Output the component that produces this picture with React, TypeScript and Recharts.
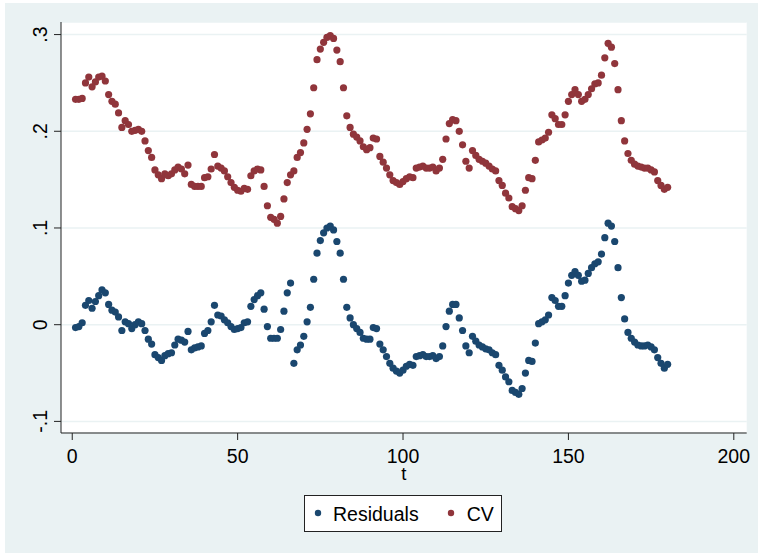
import { ScatterChart, Scatter, XAxis, YAxis, CartesianGrid, Label } from 'recharts'

const FONT = "'Liberation Sans', Arial, Helvetica, sans-serif"
const BLUE = '#1a476f'
const RED = '#90353b'
const BG = '#eaf2f3'

// time index t = 1..180
const T = Array.from({ length: 180 }, (_, i) => i + 1)

const RESIDUALS = [
  -0.003, -0.002, 0.002, 0.020, 0.025, 0.017, 0.024, 0.030, 0.036, 0.033,
  0.021, 0.015, 0.013, 0.008, -0.006, 0.003, 0.001, -0.004, 0.000, 0.003,
  0.001, -0.006, -0.015, -0.020, -0.031, -0.034, -0.037, -0.032, -0.030, -0.029,
  -0.021, -0.015, -0.016, -0.018, -0.007, -0.026, -0.024, -0.023, -0.022, -0.009,
  -0.006, 0.003, 0.020, 0.010, 0.009, 0.005, 0.002, -0.002, -0.005, -0.004,
  -0.003, 0.002, 0.003, 0.019, 0.026, 0.030, 0.033, 0.016, -0.002, -0.014,
  -0.014, -0.014, -0.005, 0.014, 0.033, 0.043, -0.040, -0.026, -0.021, -0.012,
  0.003, 0.018, 0.047, 0.074, 0.087, 0.095, 0.100, 0.102, 0.098, 0.086,
  0.074, 0.047, 0.018, 0.007, 0.000, -0.004, -0.008, -0.014, -0.015, -0.015,
  -0.003, -0.004, -0.020, -0.026, -0.033, -0.040, -0.045, -0.048, -0.050, -0.047,
  -0.043, -0.041, -0.042, -0.033, -0.032, -0.031, -0.033, -0.033, -0.032, -0.035,
  -0.033, -0.022, -0.002, 0.014, 0.021, 0.021, 0.007, -0.006, -0.022, -0.029,
  -0.012, -0.017, -0.021, -0.023, -0.025, -0.026, -0.029, -0.031, -0.042, -0.047,
  -0.054, -0.059, -0.068, -0.070, -0.072, -0.066, -0.050, -0.037, -0.038, -0.019,
  0.001, 0.003, 0.005, 0.010, 0.028, 0.025, 0.019, 0.019, 0.030, 0.043,
  0.051, 0.055, 0.051, 0.045, 0.046, 0.053, 0.059, 0.063, 0.065, 0.073,
  0.090, 0.105, 0.102, 0.086, 0.059, 0.028, 0.006, -0.008, -0.014, -0.018,
  -0.021, -0.022, -0.022, -0.021, -0.023, -0.026, -0.034, -0.040, -0.045, -0.041,
]

const CV = [
  0.233, 0.233, 0.234, 0.250, 0.256, 0.246, 0.251, 0.256, 0.257, 0.252,
  0.238, 0.231, 0.228, 0.219, 0.204, 0.211, 0.207, 0.200, 0.201, 0.202,
  0.200, 0.190, 0.180, 0.173, 0.160, 0.155, 0.151, 0.156, 0.154, 0.156,
  0.160, 0.163, 0.161, 0.156, 0.165, 0.145, 0.143, 0.143, 0.143, 0.152,
  0.153, 0.161, 0.176, 0.164, 0.162, 0.159, 0.153, 0.147, 0.142, 0.139,
  0.138, 0.141, 0.140, 0.154, 0.159, 0.161, 0.160, 0.143, 0.123, 0.111,
  0.109, 0.105, 0.112, 0.130, 0.147, 0.155, 0.159, 0.173, 0.178, 0.188,
  0.202, 0.218, 0.245, 0.274, 0.285, 0.292, 0.297, 0.299, 0.296, 0.284,
  0.272, 0.245, 0.216, 0.204, 0.197, 0.194, 0.190, 0.184, 0.181, 0.183,
  0.193, 0.192, 0.174, 0.168, 0.162, 0.155, 0.149, 0.147, 0.145, 0.148,
  0.151, 0.153, 0.152, 0.162, 0.163, 0.164, 0.162, 0.162, 0.163, 0.159,
  0.162, 0.171, 0.192, 0.208, 0.212, 0.211, 0.200, 0.186, 0.169, 0.162,
  0.180, 0.175, 0.171, 0.169, 0.167, 0.164, 0.161, 0.159, 0.149, 0.144,
  0.136, 0.131, 0.122, 0.120, 0.118, 0.123, 0.139, 0.152, 0.151, 0.170,
  0.189, 0.191, 0.193, 0.199, 0.217, 0.213, 0.207, 0.207, 0.217, 0.231,
  0.238, 0.243, 0.238, 0.231, 0.233, 0.238, 0.244, 0.249, 0.250, 0.258,
  0.276, 0.291, 0.287, 0.270, 0.243, 0.211, 0.190, 0.177, 0.170, 0.166,
  0.164, 0.163, 0.162, 0.162, 0.160, 0.158, 0.149, 0.144, 0.140, 0.142,
]

const X_TICKS = [0, 50, 100, 150, 200]
const Y_TICKS = [-0.1, 0, 0.1, 0.2, 0.3]

const SERIES = [
  { name: 'Residuals', values: RESIDUALS, color: BLUE },
  { name: 'CV', values: CV, color: RED },
]

const fmtY = (v: number) => (v === 0 ? '0' : v.toFixed(1).replace('0.', '.'))

function YTick({ x, y, payload }: any) {
  return (
    <text
      x={x}
      y={y}
      transform={`rotate(-90 ${x} ${y})`}
      textAnchor="middle"
      fontSize={19.5}
      fontFamily={FONT}
      fill="#000"
    >
      {fmtY(payload.value)}
    </text>
  )
}

const dot = (color: string) => (props: any) =>
  <circle cx={props.cx} cy={props.cy} r={3.6} fill={color} />

export default function App() {
  return (
    <div style={{ position: 'fixed', left: 0, top: 0, width: 758, height: 553, background: '#fff', fontFamily: FONT }}>
      <div style={{ position: 'absolute', left: 5, top: 3, right: 0, bottom: 0, background: BG }} />
      <div style={{ position: 'absolute', left: 0, top: 0 }}>
        <ScatterChart width={758} height={553} margin={{ top: 22, right: 11.3, bottom: 80, left: 1 }}>
          <CartesianGrid horizontal vertical={false} fill="#fff" stroke={BG} strokeWidth={1.5} />
          <XAxis
            type="number"
            dataKey="t"
            domain={[-3.4, 203.9]}
            allowDataOverflow
            ticks={X_TICKS}
            height={40}
            tickSize={7}
            tickMargin={9}
            axisLine={{ stroke: '#222' }}
            tickLine={{ stroke: '#222' }}
            tick={{ fontSize: 19.5, fill: '#000', fontFamily: FONT }}
          >
            <Label
              content={({ viewBox }: any) => (
                <text x={viewBox.x + viewBox.width / 2} y={480} textAnchor="middle" fontSize={18.5} fontFamily={FONT} fill="#000">
                  t
                </text>
              )}
            />
          </XAxis>
          <YAxis
            type="number"
            dataKey="v"
            domain={[-0.112, 0.313]}
            allowDataOverflow
            ticks={Y_TICKS}
            width={60}
            tickSize={7}
            tickMargin={7}
            axisLine={{ stroke: '#222' }}
            tickLine={{ stroke: '#222' }}
            tick={<YTick />}
          />
          {SERIES.map(s => (
            <Scatter
              key={s.name}
              name={s.name}
              data={T.map((t, i) => ({ t, v: s.values[i] }))}
              fill={s.color}
              shape={dot(s.color)}
              isAnimationActive={false}
            />
          ))}
        </ScatterChart>
      </div>
      <div
        style={{
          position: 'absolute', left: 304, top: 495, width: 198, height: 37,
          boxSizing: 'border-box', border: '1px solid #222', background: '#fff',
        }}
      >
        <svg width={196} height={35} style={{ display: 'block' }}>
          <circle cx={13} cy={17} r={3.2} fill={SERIES[0].color} />
          <text x={28} y={24.7} fontSize={19.5} fontFamily={FONT} fill="#000">{SERIES[0].name}</text>
          <circle cx={146} cy={17} r={3.2} fill={SERIES[1].color} />
          <text x={161.7} y={24.7} fontSize={19.5} fontFamily={FONT} fill="#000">{SERIES[1].name}</text>
        </svg>
      </div>
    </div>
  )
}
